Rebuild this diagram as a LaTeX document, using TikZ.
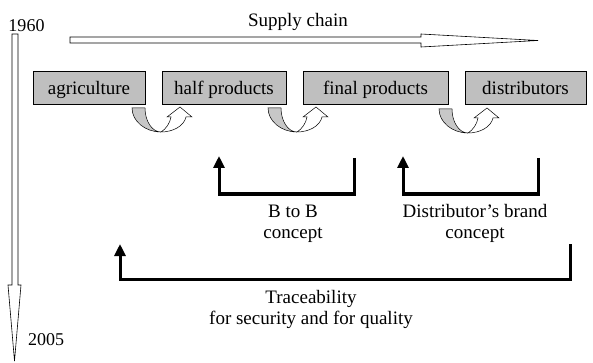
\documentclass[tikz,border=0pt]{standalone}
\usepackage{fontspec}
\setmainfont{Liberation Serif}
\usetikzlibrary{arrows.meta}

\begin{document}
\begin{tikzpicture}[x=1pt,y=-1pt,
  font=\fontsize{19}{21}\selectfont,
  stage/.style={draw,fill=black!25,minimum width=#1,minimum height=33pt,
    text height=17pt,text depth=2pt,inner sep=0pt},
  concept/.style={line width=3pt,-{Triangle[width=11pt,length=12pt]}},
  hollow/.style={draw,fill=white,line width=0.6pt},
  turnarrow/.pic={
    \filldraw[fill=black!22,line width=0.5pt] (-29,-24) .. controls (-29,-11) and (-16,0) .. (0,0)
      .. controls (-9,0) and (-16,-11) .. (-16,-24) -- cycle;
    \filldraw[fill=white,line width=0.5pt] (0,0) .. controls (5,-3) and (9,-9) .. (10,-15)
      -- (6,-15) -- (19,-25) -- (31,-15) -- (25,-15)
      .. controls (23,-6) and (12,0) .. (0,0) -- cycle;
  }]
  \useasboundingbox (0,0) rectangle (593,363);

  % time line and supply chain
  \draw[hollow] (70,37) -- (421,37) -- (421,34) -- (538,40.5) -- (421,47)
    -- (421,43) -- (70,43) -- cycle;
  \draw[hollow] (12,34) -- (18,34) -- (18,285) -- (21,285) -- (14.5,361)
    -- (8,285) -- (12,285) -- cycle;
  \node[anchor=base] (supply) at (298,27) {Supply chain};
  \node[anchor=base,font=\fontsize{18}{21}\selectfont] (start) at (26.5,32) {1960};
  \node[anchor=base,font=\fontsize{18}{21}\selectfont] (end) at (46,345) {2005};

  % stages
  \node[stage=112pt] (agri) at (89,87.5) {agriculture};
  \node[stage=124pt] (half) at (224,87.5) {half products};
  \node[stage=145pt] (final) at (375.5,87.5) {final products};
  \node[stage=121pt] (dist) at (525.5,87.5) {distributors};

  \pic at (161,132) {turnarrow};
  \pic at (297,132) {turnarrow};
  \pic at (468,133) {turnarrow};

  % concepts
  \coordinate (b2b-from) at (354,158);
  \coordinate (b2b-to) at (219,156);
  \coordinate (brand-from) at (538,158);
  \coordinate (brand-to) at (403,156);
  \coordinate (trace-from) at (570,244);
  \coordinate (trace-to) at (120,244);

  \draw[concept] (b2b-from) -- ++(0,36) -| (b2b-to);
  \draw[concept] (brand-from) -- ++(0,36) -| (brand-to);
  \draw[concept] (trace-from) -- ++(0,35) -| (trace-to);

  \node[anchor=base,align=center] (b2b) at (293,238) {B to B\\concept};
  \node[anchor=base,align=center] (brand) at (475,238) {Distributor’s brand\\concept};
  \node[anchor=base,align=center] (trace) at (311,324)
    {Traceability\\for security and for quality};
\end{tikzpicture}
\end{document}
